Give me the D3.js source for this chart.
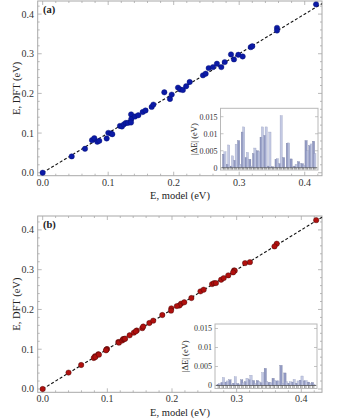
<!DOCTYPE html>
<html><head><meta charset="utf-8">
<script src="https://cdn.jsdelivr.net/npm/d3@7"></script>
<style>body{margin:0;background:#fff}svg{display:block}</style>
</head><body>
<svg id="c" width="344" height="420"></svg>
<script>
// ---- data ----
const dftE = [0.000,0.0412,0.0603,0.0822,0.0872,0.0780,0.0804,0.0864,0.1005,0.0990,0.0972,0.1180,0.1166,0.1220,0.1256,0.1256,0.1470,0.1350,0.1266,0.1417,0.1450,0.1530,0.1570,0.1660,0.1718,0.2028,0.1860,0.1970,0.2146,0.2100,0.2085,0.2180,0.2287,0.2455,0.2497,0.2638,0.2663,0.2748,0.2663,0.2789,0.2982,0.2857,0.2974,0.2932,0.3166,0.3190,0.3653,0.3585,0.4246];
const modelA = [0.000,0.0443,0.0646,0.0753,0.0788,0.0834,0.0864,0.0977,0.1002,0.1043,0.1063,0.1180,0.1210,0.1240,0.1270,0.1300,0.1350,0.1352,0.1348,0.1410,0.1460,0.1527,0.1570,0.1664,0.1690,0.1857,0.1943,0.1970,0.2066,0.2100,0.2140,0.2190,0.2244,0.2447,0.2488,0.2534,0.2600,0.2660,0.2727,0.2779,0.2875,0.2920,0.2987,0.3053,0.3176,0.3200,0.3577,0.3577,0.4173];
const modelB = [0.000,0.0400,0.0595,0.0810,0.0860,0.0790,0.0815,0.0870,0.0995,0.0985,0.0980,0.1170,0.1180,0.1230,0.1245,0.1265,0.1455,0.1345,0.1275,0.1410,0.1440,0.1540,0.1555,0.1650,0.1710,0.1990,0.1850,0.1985,0.2140,0.2115,0.2075,0.2190,0.2300,0.2440,0.2490,0.2620,0.2650,0.2760,0.2680,0.2800,0.2960,0.2870,0.2970,0.2945,0.3130,0.3205,0.3620,0.3585,0.4230];
const errA_dark  = [0.0040,0.0010,0.0005,0.0022,0.0080,0.0105,0.0030,0.0025,0.0042,0.0050,0.0090,0.0095,0.0005,0.0003,0.0025,0.0012,0.0030,0.0072,0.0026,0.0005,0.0018,0.0012,0.0080,0.0065,0.0078];
const errA_light = [0.0047,0.0067,0.0035,0.0069,0.0010,0.0120,0.0045,0.0005,0.0058,0.0048,0.0120,0.0120,0.0105,0.0002,0.0027,0.0153,0.0002,0.0073,0.0003,0.0010,0.0013,0.0008,0.0050,0.0070,0.0042];
const errB_dark  = [0.0003,0.0008,0.0009,0.0015,0.0006,0.0005,0.0015,0.0010,0.0015,0.0013,0.0013,0.0007,0.0045,0.0008,0.0019,0.0012,0.0053,0.0033,0.0006,0.0009,0.0006,0.0014,0.0012,0.0009,0.0008];
const errB_light = [0.0005,0.0021,0.0012,0.0003,0.0023,0.0003,0.0007,0.0019,0.0027,0.0005,0.0010,0.0034,0.0010,0.0007,0.0014,0.0012,0.0006,0.0010,0.0010,0.0016,0.0012,0.0025,0.0013,0.0005,0.0003];
const mainTicks = [0, 0.1, 0.2, 0.3, 0.4];
const mainTickLabels = ["0.0","0.1","0.2","0.3","0.4"];
const insetTicks = [0, 0.005, 0.01, 0.015];
const insetTickLabels = ["0","0.005","0.01","0.015"];

const svg = d3.select("#c");
const FONT = "Liberation Serif, Times New Roman, serif";
const frameCol = "#a8a8a8";

function mainPanel(o) {
  const x = d3.scaleLinear().domain(o.xd).range([37.7, 322]);
  const y = d3.scaleLinear().domain(o.yd).range([o.bottom, o.top]);
  const g = svg.append("g");
  // ticks (frame style, inward)
  const minor = d3.range(0, 0.44, 0.02);
  [["b", o.bottom, -1], ["t", o.top, 1]].forEach(([k, yy, dir]) => {
    minor.forEach((v, i) => {
      const px = x(v); if (px < 37.7 || px > 322) return;
      const major = Math.abs(v*10 - Math.round(v*10)) < 1e-6;
      g.append("line").attr("x1", px).attr("x2", px).attr("y1", yy).attr("y2", yy + dir*(major?4:2))
        .attr("stroke", frameCol).attr("stroke-width", 0.8);
    });
  });
  [["l", 37.7, 1], ["r", 322, -1]].forEach(([k, xx, dir]) => {
    minor.forEach(v => {
      const py = y(v); if (py < o.top || py > o.bottom) return;
      const major = Math.abs(v*10 - Math.round(v*10)) < 1e-6;
      g.append("line").attr("y1", py).attr("y2", py).attr("x1", xx).attr("x2", xx + dir*(major?4:2))
        .attr("stroke", frameCol).attr("stroke-width", 0.8);
    });
  });
  g.append("rect").attr("x", 37.7).attr("y", o.top).attr("width", 322-37.7).attr("height", o.bottom-o.top)
    .attr("fill", "none").attr("stroke", frameCol).attr("stroke-width", 1);
  mainTicks.forEach((v, i) => {
    g.append("text").attr("x", x(v)).attr("y", o.bottom + 10).attr("text-anchor", "middle")
      .attr("font-family", FONT).attr("font-size", 10).attr("fill", "#333").text(mainTickLabels[i]);
    g.append("text").attr("x", 34).attr("y", y(v) + 3.5).attr("text-anchor", "end")
      .attr("font-family", FONT).attr("font-size", 10).attr("fill", "#333").text(mainTickLabels[i]);
  });
  g.append("text").attr("x", 180).attr("y", o.bottom + 23.5).attr("text-anchor", "middle")
    .attr("font-family", FONT).attr("font-size", 10.5).attr("fill", "#222").text("E, model (eV)");
  g.append("text").attr("transform", `translate(19.5,${(o.top+o.bottom)/2}) rotate(-90)`).attr("text-anchor", "middle")
    .attr("font-family", FONT).attr("font-size", 10.5).attr("fill", "#222").text("E, DFT (eV)");
  g.append("text").attr("x", 43).attr("y", o.top + 12).attr("font-family", FONT).attr("font-weight", "bold")
    .attr("font-size", 10.5).attr("fill", "#222").text(o.label);
  // diagonal
  g.append("line").attr("x1", x(0)).attr("y1", y(0)).attr("x2", x(o.xd[1])).attr("y2", y(o.xd[1]))
    .attr("stroke", "#111").attr("stroke-width", 1.1).attr("stroke-dasharray", "3,2");
  // points
  g.selectAll("circle.p").data(o.xs).join("circle").attr("cx", d => x(d)).attr("cy", (d, i) => y(dftE[i]))
    .attr("r", 2.7).attr("fill", o.color).attr("stroke", o.edge).attr("stroke-width", 0.4);
  return g;
}

function inset(o) {
  const y = d3.scaleLinear().domain(o.yd).range([o.bottom, o.top]);
  const n = o.dark.length;
  const xb = d3.scaleBand().domain(d3.range(n)).range([o.left + 2, o.right - 2]).paddingInner(0.05);
  const g = svg.append("g");
  g.append("rect").attr("x", o.left).attr("y", o.top).attr("width", o.right-o.left).attr("height", o.bottom-o.top)
    .attr("fill", "#fff").attr("stroke", "#b8b8b8").attr("stroke-width", 1);
  // y ticks
  insetTicks.forEach((v, i) => {
    g.append("line").attr("x1", o.left).attr("x2", o.left+3).attr("y1", y(v)).attr("y2", y(v)).attr("stroke", "#aaa").attr("stroke-width", 0.7);
    g.append("line").attr("x1", o.right).attr("x2", o.right-3).attr("y1", y(v)).attr("y2", y(v)).attr("stroke", "#aaa").attr("stroke-width", 0.7);
    g.append("text").attr("x", o.left - 3).attr("y", y(v) + 2.8).attr("text-anchor", "end")
      .attr("font-family", FONT).attr("font-size", 8).attr("fill", "#333").text(insetTickLabels[i]);
  });
  const bw = xb.bandwidth();
  const w = bw * 0.62;
  g.selectAll("rect.d").data(o.dark).join("rect").attr("x", (d, i) => xb(i)).attr("width", w)
    .attr("y", d => y(d)).attr("height", d => y(0) - y(d))
    .attr("fill", "#7f88b8").attr("fill-opacity", 0.85).attr("stroke", "#6a7198").attr("stroke-width", 0.3);
  g.selectAll("rect.l").data(o.light).join("rect").attr("x", (d, i) => xb(i) + bw - w).attr("width", w)
    .attr("y", d => y(d)).attr("height", d => y(0) - y(d))
    .attr("fill", "#b4bcdc").attr("fill-opacity", 0.8).attr("stroke", "#8e96b8").attr("stroke-width", 0.3);
  // baseline and comb of ticks
  g.append("line").attr("x1", o.left+1).attr("x2", o.right-1).attr("y1", y(0)).attr("y2", y(0)).attr("stroke", "#555").attr("stroke-width", 0.8);
  d3.range(n).forEach(i => {
    [xb(i) + w/2, xb(i) + bw - w/2].forEach(px => {
      g.append("line").attr("x1", px).attr("x2", px).attr("y1", y(0)).attr("y2", o.bottom - 0.5)
        .attr("stroke", "#555").attr("stroke-width", 0.6);
    });
  });
  g.append("text").attr("transform", `translate(${o.labX},${(o.top+o.bottom)/2}) rotate(-90)`).attr("text-anchor", "middle")
    .attr("font-family", FONT).attr("font-size", 8.5).attr("fill", "#222").text("|ΔE| (eV)");
}

mainPanel({ xd: [-0.0076, 0.4264], yd: [-0.0075, 0.433], top: 1, bottom: 175.7, xs: modelA, color: "#0b1aa6", edge: "#061070", label: "(a)" });
mainPanel({ xd: [-0.0077, 0.432], yd: [-0.0083, 0.435], top: 216, bottom: 392.3, xs: modelB, color: "#b0100e", edge: "#3a0505", label: "(b)" });
inset({ left: 220.5, right: 318, top: 108.3, bottom: 170, yd: [-0.00065, 0.01747], dark: errA_dark, light: errA_light, labX: 197 });
inset({ left: 215, right: 317, top: 324, bottom: 388.5, yd: [-0.00079, 0.01618], dark: errB_dark, light: errB_light, labX: 188 });
</script>
</body></html>
